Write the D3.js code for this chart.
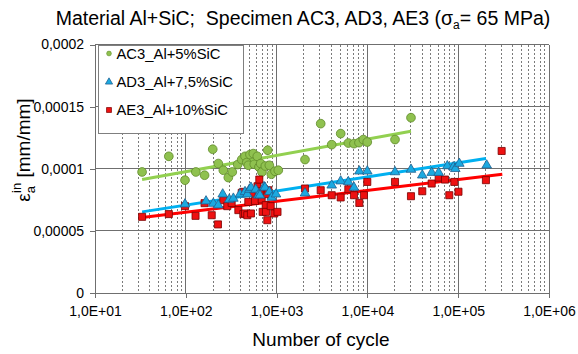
<!DOCTYPE html>
<html><head><meta charset="utf-8">
<script src="https://cdn.jsdelivr.net/npm/d3@7"></script>
<style>
html,body{margin:0;padding:0;background:#fff;}
svg{display:block;font-family:"Liberation Sans",Arial,sans-serif;}
</style></head>
<body>
<svg id="c" width="578" height="354"></svg>
<script>
// ---- data (N cycles, inelastic strain amplitude) ----
const seriesNames = ["AC3_Al+5%SiC", "AD3_Al+7,5%SiC", "AE3_Al+10%SiC"];
const ac3 = [
 [33,9.74e-5],[65,1.10e-4],[98,9.08e-5],[129,9.74e-5],[161,9.48e-5],[198,1.157e-4],
 [228,1.042e-4],[259,9.88e-5],[294,9.29e-5],[325,9.74e-5],[373,1.034e-4],[413,1.074e-4],
 [449,1.10e-4],[469,1.05e-4],[488,1.028e-4],[509,1.114e-4],[554,1.122e-4],[568,1.036e-4],
 [613,1.10e-4],[640,1.014e-4],[668,1.042e-4],[690,9.74e-5],[751,1.022e-4],[798,1.149e-4],
 [832,1.028e-4],[875,9.56e-5],[960,9.80e-5],[1044,9.88e-5],
 [2055,1.074e-4],[3060,1.363e-4],[4045,1.194e-4],[5080,1.283e-4],[6165,1.207e-4],
 [7115,1.202e-4],[8075,1.210e-4],[9015,1.235e-4],[9970,1.215e-4],[20140,1.235e-4],[30200,1.411e-4]
];
const ad3 = [
 [98,7.15e-5],[167,7.39e-5],[201,7.20e-5],[228,7.07e-5],[255,7.95e-5],[301,7.53e-5],
 [334,7.61e-5],[395,7.95e-5],[449,8.14e-5],[476,7.95e-5],[501,8.33e-5],[522,8.49e-5],
 [589,8.33e-5],[629,7.87e-5],[656,7.87e-5],[727,8.54e-5],[745,8.49e-5],[832,8.14e-5],
 [883,7.69e-5],[985,7.95e-5],
 [2055,8.03e-5],[4045,8.67e-5],[5080,9.00e-5],[6165,8.94e-5],[7115,8.49e-5],[8150,9.80e-5],
 [9970,9.80e-5],[20140,9.74e-5],[30200,9.94e-5],[40200,9.48e-5],[51050,9.69e-5],[60950,9.69e-5],
 [75900,1.022e-4],[88300,1.014e-4],[92900,1.00e-4],[102800,1.042e-4],[206000,1.028e-4]
];
const ae3 = [
 [33,6.13e-5],[65,6.35e-5],[98,6.99e-5],[128,6.21e-5],[161,7.23e-5],[193,6.26e-5],
 [226,5.52e-5],[259,7.47e-5],[286,6.99e-5],[320,7.25e-5],[379,6.67e-5],[413,8.06e-5],
 [430,8.14e-5],[430,6.35e-5],[449,6.40e-5],[476,6.26e-5],[488,7.33e-5],[522,6.40e-5],
 [532,8.06e-5],[578,7.41e-5],[616,8.59e-5],[645,9.13e-5],[673,8.19e-5],[685,7.53e-5],
 [703,6.53e-5],[759,7.07e-5],[764,6.53e-5],[778,7.95e-5],[790,5.86e-5],[811,8.27e-5],
 [861,6.99e-5],[943,6.40e-5],[1023,6.53e-5],
 [2055,8.41e-5],[3060,8.27e-5],[4045,7.87e-5],[5080,7.69e-5],[6165,8.35e-5],[7115,7.87e-5],
 [8150,7.25e-5],[9160,7.87e-5],[9970,8.94e-5],[20140,8.94e-5],[30200,7.79e-5],[40200,8.19e-5],
 [51050,8.81e-5],[60950,9.29e-5],[71600,9.13e-5],[79800,7.87e-5],[90600,8.94e-5],
 [100700,8.15e-5],[202000,9.08e-5],[301000,1.143e-4]
];
// trend lines (start and end points)
const trendAC3 = [[33,9.13e-5],[30200,1.301e-4]];
const trendAD3 = [[33,6.53e-5],[202000,1.082e-4]];
const trendAE3 = [[33,6.08e-5],[306000,9.56e-5]];
const yTicks = [0, 0.00005, 0.0001, 0.00015, 0.0002];
const yTickLabels = ["0", "0,00005", "0,0001", "0,00015", "0,0002"];
const xTicks = [1e1, 1e2, 1e3, 1e4, 1e5, 1e6];
const xTickLabels = ["1,0E+01", "1,0E+02", "1,0E+03", "1,0E+04", "1,0E+05", "1,0E+06"];

// ---- layout ----
const svg = d3.select("#c");
const L = 95, R = 549, T = 44.5, B = 293;
const x = d3.scaleLog().domain([10, 1e6]).range([L, R]);
const y = d3.scaleLinear().domain([0, 0.0002]).range([B, T]);

// minor vertical gridlines
const minor = [];
for (let d = 10; d < 1e6; d *= 10) for (let k = 2; k <= 9; k++) minor.push(d * k);
svg.append("g").selectAll("line").data(minor).join("line")
  .attr("x1", d => x(d)).attr("x2", d => x(d)).attr("y1", T).attr("y2", B)
  .attr("stroke", "#7a7a7a").attr("stroke-width", 1).attr("stroke-dasharray", "2,2")
  .attr("shape-rendering", "crispEdges");
// major gridlines
svg.append("g").selectAll("line").data(xTicks).join("line")
  .attr("x1", d => x(d)).attr("x2", d => x(d)).attr("y1", T).attr("y2", B)
  .attr("stroke", "#6f6f6f").attr("stroke-width", 1).attr("shape-rendering", "crispEdges");
svg.append("g").selectAll("line").data(yTicks).join("line")
  .attr("x1", L).attr("x2", R).attr("y1", d => y(d)).attr("y2", d => y(d))
  .attr("stroke", "#6f6f6f").attr("stroke-width", 1).attr("shape-rendering", "crispEdges");

// axes
const yAxis = d3.axisLeft(y).tickValues(yTicks).tickSize(5).tickFormat((d, i) => yTickLabels[i]);
const gy = svg.append("g").attr("transform", `translate(${L},0)`).call(yAxis);
const xAxis = d3.axisBottom(x).tickValues(xTicks).tickSize(5).tickFormat((d, i) => xTickLabels[i]);
const gx = svg.append("g").attr("transform", `translate(0,${B})`).call(xAxis);
[gy, gx].forEach(g => {
  g.select(".domain").attr("stroke", "#6f6f6f").attr("shape-rendering", "crispEdges");
  g.selectAll(".tick line").attr("stroke", "#6f6f6f").attr("shape-rendering", "crispEdges");
  g.selectAll("text").attr("font-family", "Liberation Sans, Arial, sans-serif")
    .attr("font-size", 14).attr("fill", "#000");
});
gy.selectAll("text").attr("x", -11);
gx.selectAll("text").attr("y", 13);

// trend lines
const line = d3.line().x(d => x(d[0])).y(d => y(d[1]));
const trends = [[trendAC3, "#92d050"], [trendAD3, "#00b0f0"], [trendAE3, "#ff0000"]];
svg.append("g").selectAll("path").data(trends).join("path")
  .attr("d", d => line(d[0])).attr("stroke", d => d[1]).attr("stroke-width", 3)
  .attr("fill", "none");

// markers
const mk = {
  circle: d3.symbol().type(d3.symbolCircle).size(60),
  tri: d3.symbol().type(d3.symbolTriangle).size(40),
  sq: d3.symbol().type(d3.symbolSquare).size(50)
};
const series = [
  {data: ac3, sym: mk.circle, fill: "#8fc14f", stroke: "#5f8a2a"},
  {data: ae3, sym: mk.sq, fill: "#ee1111", stroke: "#7a0000"},
  {data: ad3, sym: mk.tri, fill: "#1ba9e0", stroke: "#1f5f8f"}
];
series.forEach(s => {
  svg.append("g").selectAll("path").data(s.data).join("path")
    .attr("transform", d => `translate(${x(d[0])},${y(d[1])})`)
    .attr("d", s.sym).attr("fill", s.fill).attr("stroke", s.stroke).attr("stroke-width", 0.8);
});

// legend
const lg = svg.append("g");
lg.append("rect").attr("x", 98.5).attr("y", 45.5).attr("width", 145).attr("height", 88)
  .attr("fill", "#fff").attr("stroke", "#7f7f7f").attr("stroke-width", 1);
const legendItems = [
  {name: seriesNames[0], sym: mk.circle, fill: "#8fc14f", stroke: "#5f8a2a", size: 0.55},
  {name: seriesNames[1], sym: mk.tri, fill: "#1ba9e0", stroke: "#1f5f8f", size: 0.75},
  {name: seriesNames[2], sym: mk.sq, fill: "#ee1111", stroke: "#7a0000", size: 0.7}
];
const rowY = [53.5, 82, 110];
legendItems.forEach((it, i) => {
  lg.append("path").attr("transform", `translate(109,${rowY[i]}) scale(${it.size})`)
    .attr("d", it.sym).attr("fill", it.fill).attr("stroke", it.stroke).attr("stroke-width", 1);
  lg.append("text").attr("x", 116.5).attr("y", rowY[i]).attr("dy", "0.36em")
    .attr("font-size", 14.8).text(it.name);
});

// title
const title = svg.append("text").attr("x", 303).attr("y", 25).attr("text-anchor", "middle")
  .attr("font-size", 19.5);
title.append("tspan").text("Material Al+SiC;\u00a0\u00a0Specimen AC3, AD3, AE3 (σ");
title.append("tspan").attr("font-size", 12).attr("dy", 4).text("a");
title.append("tspan").attr("dy", -4).text("= 65 MPa)");

// x-axis title
svg.append("text").attr("x", 321).attr("y", 346).attr("text-anchor", "middle")
  .attr("font-size", 19).text("Number of cycle");

// y-axis title
const yt = svg.append("text").attr("transform", "translate(30,150) rotate(-90)")
  .attr("text-anchor", "middle").attr("font-size", 19);
yt.append("tspan").text("ε");
yt.append("tspan").attr("font-size", 13).attr("dy", 5).text("a");
yt.append("tspan").attr("font-size", 13).attr("dy", -14).attr("dx", -7).text("in");
yt.append("tspan").attr("dy", 9).text(" [mm/mm]");
</script>
</body></html>
